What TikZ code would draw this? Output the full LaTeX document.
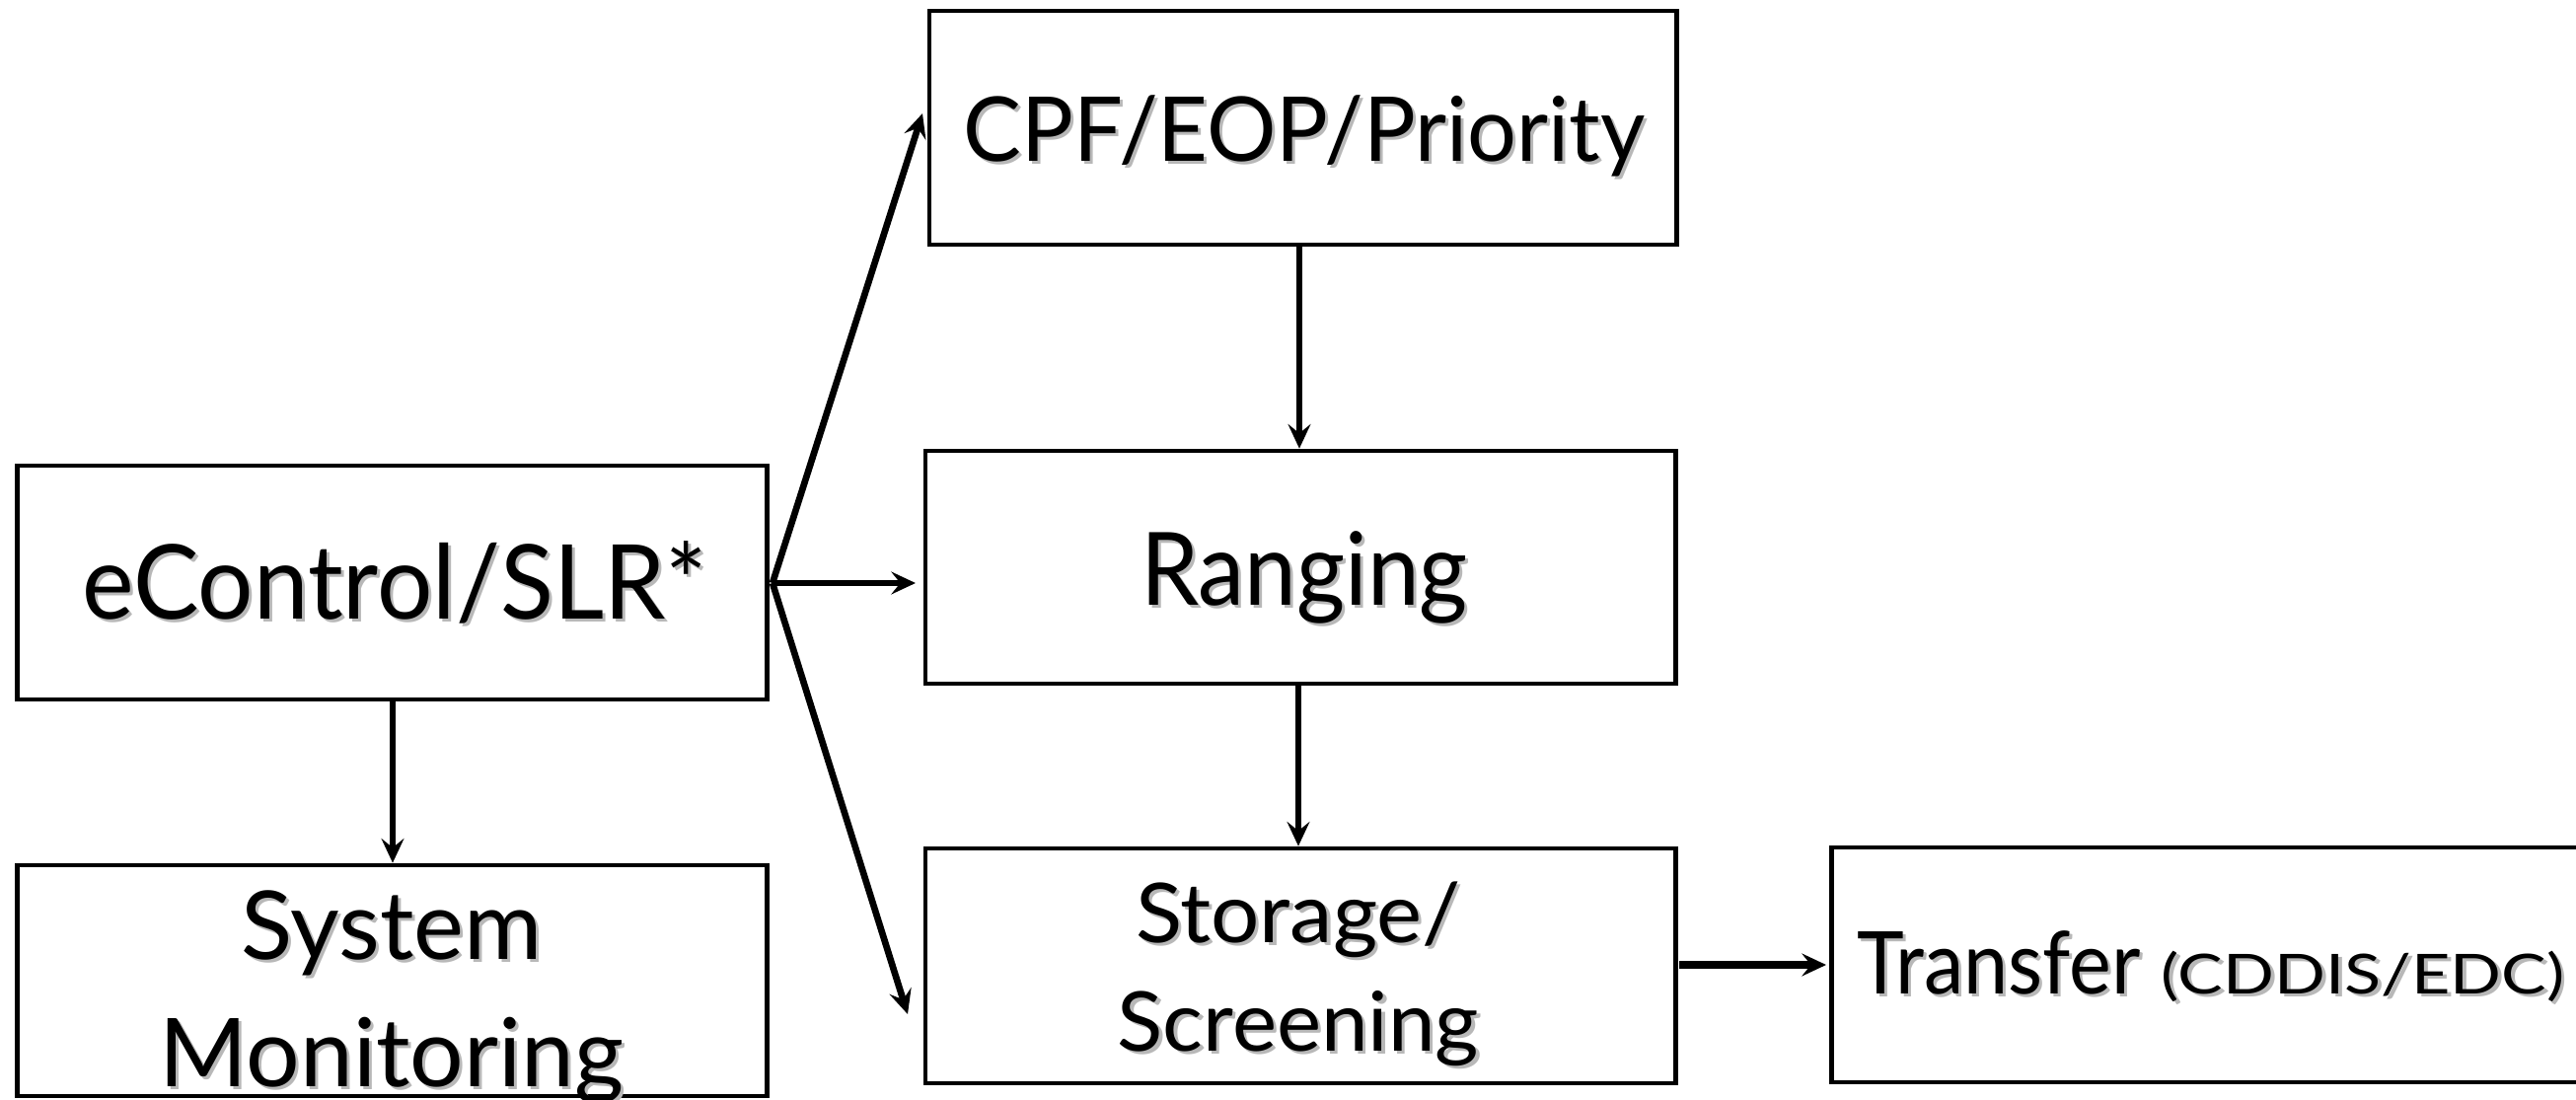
\documentclass[tikz,border=0pt]{standalone}
\usepackage{graphicx}
\usepackage{fontspec}
\setmainfont{Lato}
\usetikzlibrary{arrows.meta}
% one line of text with a soft drop shadow, optionally narrowed or widened
\newcommand\shtext[2][1]{\scalebox{#1}[1]{\leavevmode\rlap{\kern0.9pt\raisebox{-0.9pt}{\textcolor{black!28}{#2}}}#2}}
\tikzset{
  box/.style={draw=black, line width=1.3pt, inner sep=0pt},
  lbl/.style={inner sep=0pt, anchor=base},
  flow/.style={line width=1.9pt, -{Stealth[length=7pt, width=6.5pt, inset=2.6pt]}},
}
\begin{document}
\begin{tikzpicture}[x=0.01cm, y=-0.01cm]
\useasboundingbox (0,0) rectangle (2611,1115);
% boxes (pixel grid, y downwards)
\node[box, minimum width=7.59cm, minimum height=2.37cm] (ec)  at (397.5,590.5) {};
\node[box, minimum width=7.59cm, minimum height=2.34cm] (sys) at (397.5,994) {};
\node[box, minimum width=7.57cm, minimum height=2.37cm] (cpf) at (1320.5,129.5) {};
\node[box, minimum width=7.60cm, minimum height=2.36cm] (rng) at (1318,575) {};
\node[box, minimum width=7.60cm, minimum height=2.38cm] (sto) at (1318,979) {};
\node[box, minimum width=8.00cm, minimum height=2.38cm] (tra) at (2257,978) {};
% labels
\node[lbl, font=\fontsize{29.8}{36}\selectfont] (tec) at (400,627) {\shtext[0.95]{eControl/SLR*}};
\node[lbl, font=\fontsize{27.4}{36}\selectfont] (tsys1) at (397,972) {\shtext{System}};
\node[lbl, font=\fontsize{27.4}{36}\selectfont] (tsys2) at (397,1101) {\shtext{Monitoring}};
\node[lbl, font=\fontsize{25.8}{32}\selectfont] (tcpf) at (1322,163) {\shtext[0.97]{CPF/EOP/Priority}};
\node[lbl, font=\fontsize{29.2}{36}\selectfont] (trng) at (1322,613) {\shtext[0.92]{Ranging}};
\node[lbl, font=\fontsize{23.8}{30}\selectfont] (tsto1) at (1316,955) {\shtext[1.04]{Storage/}};
\node[lbl, font=\fontsize{23.8}{30}\selectfont] (tsto2) at (1316,1065) {\shtext[1.02]{Screening}};
\node[lbl, anchor=base west, font=\fontsize{25}{30}\selectfont] (ttra) at (1882,1007)
  {\shtext[0.92]{Transfer}\hspace{0.24em}{\fontsize{15.9}{18}\selectfont\shtext[1.22]{(CDDIS/EDC)}}};
% arrow end points
\coordinate (fan) at (783,591);
\coordinate (toCpf) at (935,115);
\coordinate (toRng) at (928,591);
\coordinate (toSto) at (920,1028);
\coordinate (fromSto) at (1702,978);
\coordinate (toTra) at (1851,978);
% connectors
\draw[flow] (fan) -- (toCpf);
\draw[flow] (fan) -- (toRng);
\draw[flow] (fan) -- (toSto);
\draw[flow] (ec.south -| 398,0) -- (sys.north -| 398,0);
\draw[flow] (cpf.south -| 1317,0) -- (rng.north -| 1317,0);
\draw[flow] (rng.south -| 1316,0) -- (sto.north -| 1316,0);
\draw[flow, line width=2.4pt] (fromSto) -- (toTra);
\end{tikzpicture}
\end{document}
